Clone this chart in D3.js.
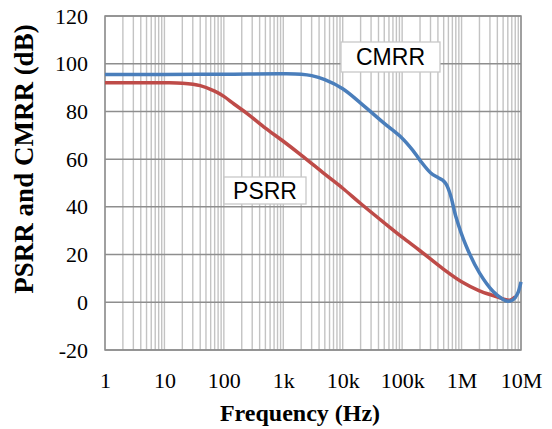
<!DOCTYPE html>
<html>
<head>
<meta charset="utf-8">
<script src="https://cdn.jsdelivr.net/npm/d3@7"></script>
<style>
  body { margin: 0; background: #fff; }
  svg { display: block; }
</style>
</head>
<body>
<div id="chart"></div>
<script>
// values
var freqTicks = [1, 10, 100, 1e3, 1e4, 1e5, 1e6, 1e7];
var freqLabels = ["1", "10", "100", "1k", "10k", "100k", "1M", "10M"];
var dbTicks = [-20, 0, 20, 40, 60, 80, 100, 120];

var cmrrFreq = [1, 10, 100, 1000, 2000, 3000, 5000, 10000, 20000, 50000, 100000, 150000,
  200000, 300000, 400000, 480000, 550000, 650000, 800000, 1.2e6, 2e6, 3.4e6, 5e6, 6e6,
  7.3e6, 8.7e6, 1e7];
var cmrrDb = [95.5, 95.5, 95.6, 95.8, 95.6, 95.0, 93.3, 89.5, 83.5, 75, 68.8, 63.8,
  59.5, 54.3, 52.3, 51.2, 49.5, 45, 36, 23.5, 12.3, 4.5, 1.2, 0.4,
  1.0, 3.5, 8.6];

var psrrFreq = [1, 10, 20, 40, 70, 100, 150, 250, 500, 1000, 2000, 5000, 10000, 20000,
  50000, 100000, 200000, 500000, 1e6, 2e6, 3.5e6, 5e6, 6.5e6, 8e6];
var psrrDb = [92, 92, 91.8, 90.8, 88.5, 86.3, 83, 79, 73, 67.5, 61.7, 53.7, 47.8, 41.4,
  33.3, 27.3, 21.6, 13.8, 8.6, 4.8, 2.7, 1.4, 0.9, 2.3];

var svgWidth = 552;
var svgHeight = 429;

var plot = { left: 105, right: 521, top: 16, bottom: 350 };

var svg = d3.select("#chart")
  .append("svg")
  .attr("width", svgWidth)
  .attr("height", svgHeight);

var x = d3.scaleLog().domain([1, 1e7]).range([plot.left, plot.right]);
var y = d3.scaleLinear().domain([-20, 120]).range([plot.bottom, plot.top]);

// minor + decade verticals
var vLines = [];
for (var d = 1; d < 1e7; d *= 10) {
  for (var k = 1; k < 10; k++) {
    vLines.push(d * k);
  }
}
vLines.push(1e7);

svg.append("g")
  .selectAll("line")
  .data(vLines)
  .enter()
  .append("line")
  .attr("x1", f => x(f))
  .attr("x2", f => x(f))
  .attr("y1", plot.top)
  .attr("y2", plot.bottom)
  .attr("stroke", "#c3c3c3")
  .attr("stroke-width", 1.4);

// horizontal major lines
svg.append("g")
  .selectAll("line")
  .data(dbTicks)
  .enter()
  .append("line")
  .attr("x1", plot.left)
  .attr("x2", plot.right)
  .attr("y1", v => y(v))
  .attr("y2", v => y(v))
  .attr("stroke", "#8e8e8e")
  .attr("stroke-width", 1.5);

// plot frame
svg.append("rect")
  .attr("x", plot.left)
  .attr("y", plot.top)
  .attr("width", plot.right - plot.left)
  .attr("height", plot.bottom - plot.top)
  .attr("fill", "none")
  .attr("stroke", "#8e8e8e")
  .attr("stroke-width", 1.5);

// y axis labels (plain hyphen for the minus sign, like the original)
var leftAxis = d3.axisLeft(y).tickValues(dbTicks).tickSize(0).tickPadding(17)
  .tickFormat(v => String(v));
var yAxis = svg.append("g")
  .attr("transform", `translate(${plot.left},0)`)
  .call(leftAxis);
yAxis.select(".domain").remove();
yAxis.selectAll("text")
  .attr("font-family", "'Liberation Serif', 'Times New Roman', serif")
  .attr("font-size", "22px")
  .attr("fill", "#000");

// x axis labels
var bottomAxis = d3.axisBottom(x).tickValues(freqTicks).tickSize(0)
  .tickFormat((f, i) => freqLabels[i]);
var xAxis = svg.append("g")
  .attr("transform", `translate(0,${plot.bottom})`)
  .call(bottomAxis);
xAxis.select(".domain").remove();
xAxis.selectAll("text")
  .attr("y", 38)
  .attr("dy", 0)
  .attr("font-family", "'Liberation Serif', 'Times New Roman', serif")
  .attr("font-size", "22px")
  .attr("fill", "#000");

// curves
var line = d3.line()
  .x(p => x(p[0]))
  .y(p => y(p[1]))
  .curve(d3.curveCatmullRom.alpha(0.5));

svg.append("path")
  .datum(d3.zip(psrrFreq, psrrDb))
  .attr("d", line)
  .attr("fill", "none")
  .attr("stroke", "#be4b48")
  .attr("stroke-width", 3.5)
  .attr("stroke-linejoin", "round");

svg.append("path")
  .datum(d3.zip(cmrrFreq, cmrrDb))
  .attr("d", line)
  .attr("fill", "none")
  .attr("stroke", "#4a7ebb")
  .attr("stroke-width", 3.5)
  .attr("stroke-linejoin", "round");

// boxed series labels
function seriesLabel(txt, bx, by, bw, bh) {
  svg.append("rect")
    .attr("x", bx).attr("y", by)
    .attr("width", bw).attr("height", bh)
    .attr("fill", "#fff")
    .attr("stroke", "#c8c8c8")
    .attr("stroke-width", 1.3);
  svg.append("text")
    .attr("x", bx + bw / 2)
    .attr("y", by + bh / 2)
    .attr("dy", "0.36em")
    .attr("text-anchor", "middle")
    .attr("font-family", "'Liberation Sans', Arial, sans-serif")
    .attr("font-size", "23px")
    .attr("fill", "#000")
    .text(txt);
}
seriesLabel("CMRR", 341, 42, 99, 30);
seriesLabel("PSRR", 224, 177, 82, 27);

// axis titles
svg.append("text")
  .attr("x", 300)
  .attr("y", 421)
  .attr("text-anchor", "middle")
  .attr("font-family", "'Liberation Serif', 'Times New Roman', serif")
  .attr("font-weight", "bold")
  .attr("font-size", "24px")
  .attr("fill", "#000")
  .text("Frequency (Hz)");

svg.append("text")
  .attr("transform", "translate(33,159) rotate(-90)")
  .attr("text-anchor", "middle")
  .attr("font-family", "'Liberation Serif', 'Times New Roman', serif")
  .attr("font-weight", "bold")
  .attr("font-size", "27px")
  .attr("fill", "#000")
  .text("PSRR and CMRR (dB)");
</script>
</body>
</html>
